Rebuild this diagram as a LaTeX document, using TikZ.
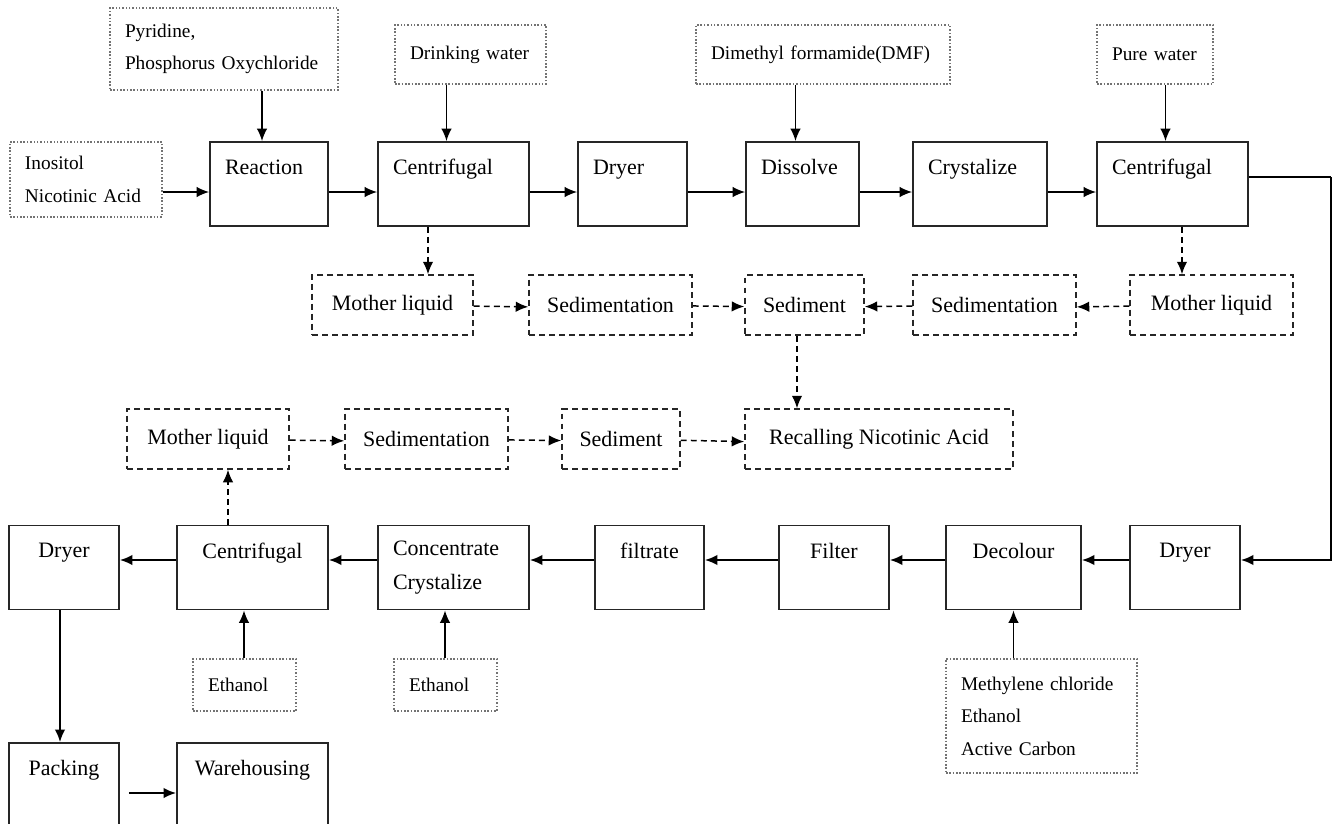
\documentclass[tikz,border=0pt]{standalone}
\usepackage{fontspec}
\setmainfont{Liberation Serif}
\usetikzlibrary{arrows.meta}
\newcommand{\procfont}{\fontsize{12.5}{19.3}\selectfont}
\newcommand{\feedfont}{\fontsize{11}{18.5}\selectfont}
\tikzset{
  proc/.style={draw=black!85, line width=1pt, font=\procfont, inner xsep=0.3cm, minimum height=1.68cm},
  procl/.style={proc, align=left, text width=#1},
  procc/.style={proc, align=center, minimum width=#1},
  feed/.style={draw=black!55, densely dotted, line width=0.9pt, font=\feedfont, inner xsep=0.3cm, align=left},
  waste/.style={draw=black!85, line width=0.85pt, dash pattern=on 3.4pt off 2.3pt, font=\procfont, minimum height=1.2cm, align=center},
  flow/.style={->, line width=0.85pt},
  wflow/.style={->, line width=0.85pt, dash pattern=on 3.4pt off 2.3pt},
  >={Latex[length=2.5mm,width=2.1mm]}
}

\begin{document}
\begin{tikzpicture}
  \useasboundingbox (0,0) rectangle (26.66,-16.48);
  % feeds at the top
  \node[feed, text width=2.44cm, minimum height=1.5cm] (inos) at (1.72,-3.59) {Inositol\\Nicotinic Acid};
  \node[feed, text width=3.96cm, minimum height=1.64cm] (pyr) at (4.48,-0.98) {Pyridine,\\Phosphorus Oxychloride};
  \node[feed, text width=2.42cm, minimum height=1.18cm] (drink) at (9.41,-1.09) {Drinking water};
  \node[feed, text width=4.48cm, minimum height=1.18cm] (dmf) at (16.46,-1.09) {Dimethyl formamide(DMF)};
  \node[feed, text width=1.72cm, minimum height=1.18cm] (purew) at (23.1,-1.09) {Pure water};

  % main line
  \node[procl=1.76cm] (reac) at (5.38,-3.68) {Reaction\\~};
  \node[procl=2.42cm] (cent1) at (9.07,-3.68) {Centrifugal\\~};
  \node[procl=1.58cm] (dry1) at (12.65,-3.68) {Dryer\\~};
  \node[procl=1.66cm] (diss) at (16.05,-3.68) {Dissolve\\~};
  \node[procl=2.08cm] (crys) at (19.6,-3.68) {Crystalize\\~};
  \node[procl=2.42cm] (cent2) at (23.45,-3.68) {Centrifugal\\~};

  % mother liquid recovery
  \node[waste, minimum width=3.22cm] (ml1) at (7.85,-6.1) {Mother liquid};
  \node[waste, minimum width=3.26cm] (sed1) at (12.21,-6.1) {Sedimentation};
  \node[waste, minimum width=2.38cm] (sdm1) at (16.09,-6.1) {Sediment};
  \node[waste, minimum width=3.26cm] (sed2) at (19.89,-6.1) {Sedimentation};
  \node[waste, minimum width=3.26cm] (ml2) at (24.23,-6.1) {Mother liquid};

  \node[waste, minimum width=3.24cm] (ml3) at (4.16,-8.78) {Mother liquid};
  \node[waste, minimum width=3.26cm] (sed3) at (8.53,-8.78) {Sedimentation};
  \node[waste, minimum width=2.36cm] (sdm3) at (12.42,-8.78) {Sediment};
  \node[waste, minimum width=5.36cm] (recall) at (17.58,-8.78) {Recalling Nicotinic Acid};

  % refining line
  \node[procc=2.2cm] (dry2) at (1.28,-11.35) {Dryer\\~};
  \node[procc=3.02cm] (cent3) at (5.05,-11.35) {Centrifugal\\~};
  \node[procl=2.42cm] (conc) at (9.07,-11.35) {Concentrate\\Crystalize};
  \node[procc=2.18cm] (filt) at (12.99,-11.35) {filtrate\\~};
  \node[procc=2.2cm] (filter) at (16.68,-11.35) {Filter\\~};
  \node[procc=2.7cm] (deco) at (20.27,-11.35) {Decolour\\~};
  \node[procc=2.2cm] (dry3) at (23.7,-11.35) {Dryer\\~};

  \node[feed, text width=1.46cm, minimum height=1.04cm] (eth1) at (4.89,-13.7) {Ethanol};
  \node[feed, text width=1.46cm, minimum height=1.04cm] (eth2) at (8.91,-13.7) {Ethanol};
  \node[feed, text width=3.22cm, minimum height=2.28cm] (meth) at (20.83,-14.32) {Methylene chloride\\Ethanol\\Active Carbon};

  \node[procc=2.2cm] (pack) at (1.28,-15.7) {Packing\\~};
  \node[procc=3.02cm] (ware) at (5.05,-15.7) {Warehousing\\~};

  \coordinate (rt) at (26.62,-3.54);

  \foreach \from/\to in {inos/reac, reac/cent1, cent1/dry1, dry1/diss, diss/crys, crys/cent2}{
    \path ([yshift=-1.6mm]\to.west) coordinate (t);
    \draw[flow] (\from.east |- t) -- (t);
  }
  \foreach \from/\to in {pyr/reac, drink/cent1, dmf/diss, purew/cent2}{
    \path ([xshift=-1.4mm]\to.north) coordinate (t);
    \draw[flow] (\from.south -| t) -- (t);
  }
  \draw[line width=1.3pt] ([yshift=1.4mm]cent2.east) -- (rt);
  \draw[flow, line width=1.1pt] (rt) |- ([yshift=1.5mm]dry3.east);
  \foreach \from/\to in {dry3/deco, deco/filter, filter/filt, filt/conc, conc/cent3, cent3/dry2}{
    \path ([yshift=1.5mm]\to.east) coordinate (t);
    \draw[flow, line width=1.1pt] (\from.west |- t) -- (t);
  }
  \foreach \from/\to/\dx in {eth1/cent3/-1.7mm, eth2/conc/-1.7mm, meth/deco/0mm}{
    \path ([xshift=\dx]\to.south) coordinate (t);
    \draw[flow] (\from.north -| t) -- (t);
  }
  \path ([xshift=-0.8mm]dry2.south) coordinate (t);
  \draw[flow, line width=1.1pt] (t) -- (t |- pack.north);
  \path ([yshift=-1.6mm]ware.west) coordinate (t);
  \draw[flow, line width=1.1pt] ([xshift=1.8mm]pack.east |- t) -- (t);

  % dashed recovery arrows
  \foreach \from/\to in {ml1/sed1, sed1/sdm1, ml2/sed2, sed2/sdm1, ml3/sed3, sed3/sdm3, sdm3/recall}{
    \draw[wflow] ([yshift=-1mm]\from) -- ([yshift=-1mm]\to);
  }
  \path ([xshift=-5.1mm]cent1.south) coordinate (t);
  \draw[wflow] (t) -- (t |- ml1.north);
  \path ([xshift=1.9mm]cent2.south) coordinate (t);
  \draw[wflow] (t) -- (t |- ml2.north);
  \path ([xshift=-1.5mm]sdm1.south) coordinate (t);
  \draw[wflow] (t) -- (t |- recall.north);
  \path ([xshift=-4.9mm]cent3.north) coordinate (t);
  \draw[wflow] (t) -- (t |- ml3.south);
\end{tikzpicture}
\end{document}
